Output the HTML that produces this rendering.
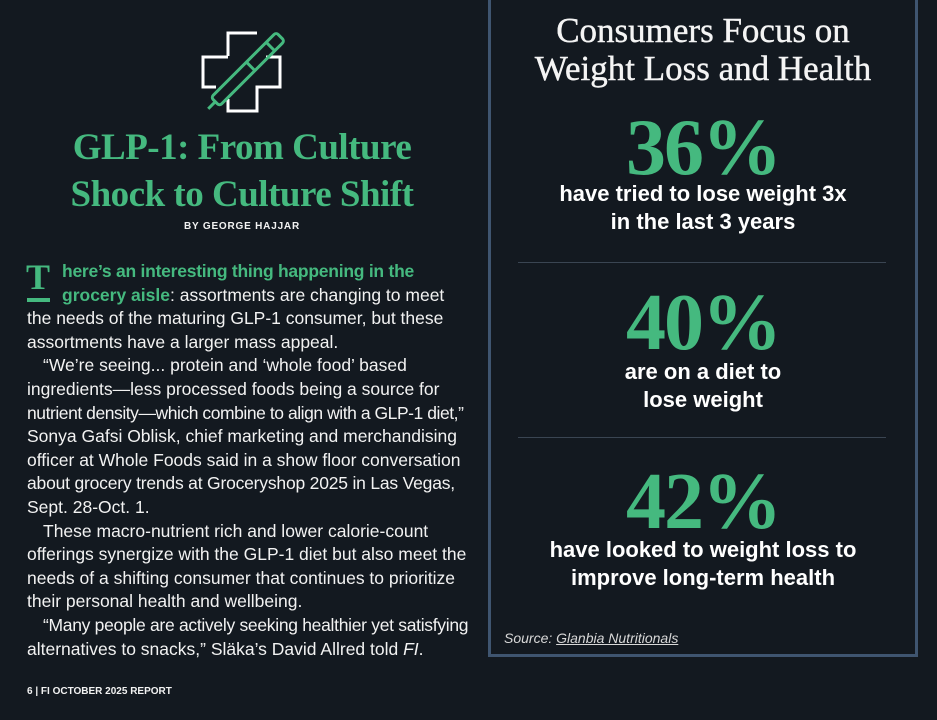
<!DOCTYPE html>
<html><head><meta charset="utf-8"><style>
*{margin:0;padding:0;box-sizing:border-box}
body{width:937px;height:720px;background:#131920;position:relative;overflow:hidden;font-family:"Liberation Sans",sans-serif;color:#f2f2f2}
.a{position:absolute;white-space:nowrap}
.g{color:#45b97f}
.ttl{font-family:"Liberation Serif",serif;font-weight:bold;font-size:37px;color:#45b97f;left:0;width:484px;text-align:center;letter-spacing:-0.5px}
.body{left:27px;font-size:17.5px;line-height:23.6px;top:260px;width:450px}
.body div{white-space:nowrap}
.ind{padding-left:16px}
.panel{position:absolute;left:488px;top:-5px;width:430px;height:662px;border:3px solid #3f5570}
.ht{font-family:"Liberation Serif",serif;font-size:35px;color:#f4f4f4;left:488px;width:430px;text-align:center;line-height:38px;-webkit-text-stroke:0.4px #f4f4f4}
.num{font-family:"Liberation Serif",serif;font-weight:bold;font-size:80px;color:#45b97f;left:488px;width:430px;text-align:center;letter-spacing:-2px;line-height:88px}
.st{font-weight:bold;font-size:22px;left:488px;width:430px;text-align:center;line-height:28px;color:#fff}
.hr{position:absolute;left:518px;width:368px;height:1px;background:#3a4552}
</style></head><body>
<svg class="a" style="left:0;top:0" width="300" height="120" viewBox="0 0 300 120">
<path d="M228 56 V33 H257 M228 57 H203 V87 H216 M228 99 V111 H257 V87 H280 V57 H266" fill="none" stroke="#fff" stroke-width="3"/>
<g transform="translate(245,72) rotate(-45)" fill="none" stroke="#45b97f" stroke-width="3">
<rect x="-42" y="-6" width="92" height="12" rx="3"/>
<line x1="36" y1="-6" x2="36" y2="6"/><line x1="8" y1="-6" x2="8" y2="6"/>
<line x1="-42" y1="0" x2="-52" y2="0"/>
</g></svg>
<div class="a ttl" style="top:126px">GLP-1: From Culture</div>
<div class="a ttl" style="top:173px">Shock to Culture Shift</div>
<div class="a" style="left:0;width:484px;text-align:center;top:221px;font-size:10px;font-weight:bold;letter-spacing:0.8px">BY GEORGE HAJJAR</div>
<div class="a g" style="left:26px;top:256px;font-family:'Liberation Serif',serif;font-weight:bold;font-size:36px">T</div>
<div class="a" style="left:27px;top:298px;width:23px;height:4px;background:#45b97f"></div>
<div class="a body">
<div style="padding-left:35px;letter-spacing:-0.25px"><b class="g">here’s an interesting thing happening in the</b></div>
<div style="padding-left:35px"><b class="g">grocery aisle</b>: assortments are changing to meet</div>
<div>the needs of the maturing GLP-1 consumer, but these</div>
<div>assortments have a larger mass appeal.</div>
<div class="ind">“We’re seeing... protein and ‘whole food’ based</div>
<div>ingredients—less processed foods being a source for</div>
<div style="letter-spacing:-0.45px">nutrient density—which combine to align with a GLP-1 diet,”</div>
<div>Sonya Gafsi Oblisk, chief marketing and merchandising</div>
<div>officer at Whole Foods said in a show floor conversation</div>
<div style="letter-spacing:-0.2px">about grocery trends at Groceryshop 2025 in Las Vegas,</div>
<div>Sept. 28-Oct. 1.</div>
<div class="ind">These macro-nutrient rich and lower calorie-count</div>
<div>offerings synergize with the GLP-1 diet but also meet the</div>
<div>needs of a shifting consumer that continues to prioritize</div>
<div>their personal health and wellbeing.</div>
<div class="ind" style="letter-spacing:-0.3px">“Many people are actively seeking healthier yet satisfying</div>
<div>alternatives to snacks,” Släka’s David Allred told <i>FI</i>.</div>
</div>
<div class="a" style="left:27px;top:686px;font-size:10px;font-weight:bold">6 | FI OCTOBER 2025 REPORT</div>
<div class="panel"></div>
<div class="a ht" style="top:12px">Consumers Focus on</div>
<div class="a ht" style="top:50px">Weight Loss and Health</div>
<div class="a num" style="top:104px">36%</div>
<div class="a st" style="top:180px">have tried to lose weight 3x<br>in the last 3 years</div>
<div class="hr" style="top:262px"></div>
<div class="a num" style="top:279px">40%</div>
<div class="a st" style="top:358px">are on a diet to<br>lose weight</div>
<div class="hr" style="top:437px"></div>
<div class="a num" style="top:458px">42%</div>
<div class="a st" style="top:536px">have looked to weight loss to<br>improve long-term health</div>
<div class="a" style="left:504px;top:630px;font-size:14px;font-style:italic;color:#d8d8d8">Source: <u>Glanbia Nutritionals</u></div>
</body></html>
